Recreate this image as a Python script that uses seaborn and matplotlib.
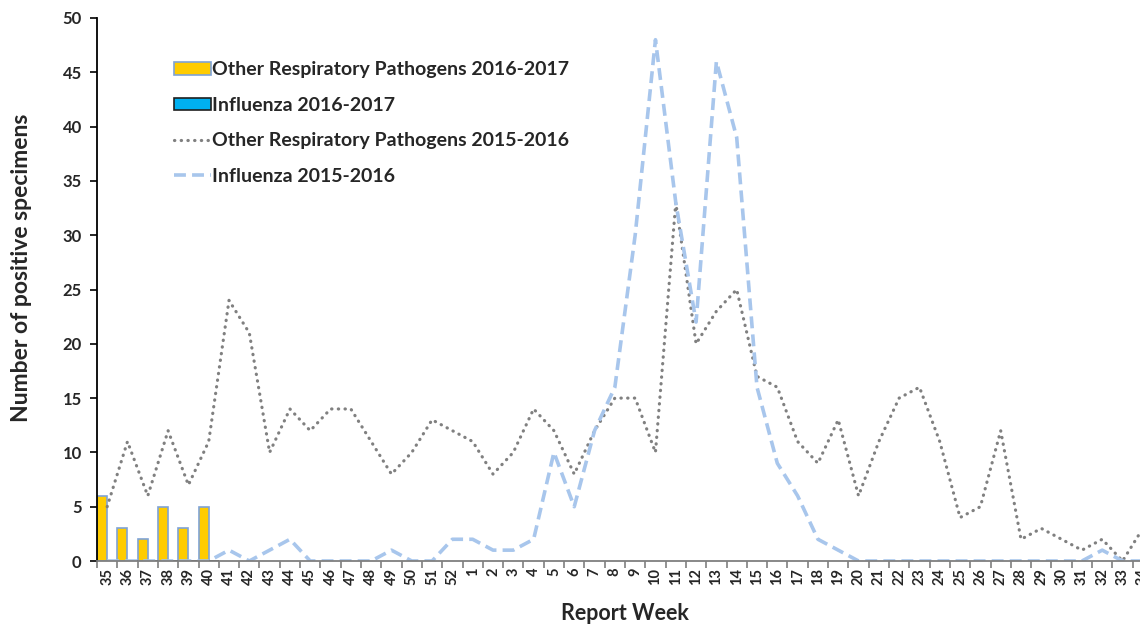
import numpy as np
import pandas as pd
import matplotlib
matplotlib.use("Agg")
import matplotlib.pyplot as plt
import seaborn as sns
from matplotlib.patches import Patch
from matplotlib.lines import Line2D

# ---------------- data ----------------
weeks = [str(w) for w in list(range(35, 53)) + list(range(1, 35))]
bar_weeks = ["35", "36", "37", "38", "39", "40"]
other_1617 = [6, 3, 2, 5, 3, 5]
flu_1617 = [0, 0, 0, 0, 0, 0]
other_1516 = [5, 11, 6, 12, 7, 11, 24, 21, 10, 14, 12, 14, 14, 11, 8, 10, 13, 12,
              11, 8, 10, 14, 12, 8, 12, 15, 15, 10, 33, 20, 23, 25, 17, 16, 11, 9,
              13, 6, 11, 15, 16, 11, 4, 5, 12, 2, 3, 2, 1, 2, 0, 3]
flu_1516 = [0, 0, 0, 0, 0, 0, 1, 0, 1, 2, 0, 0, 0, 0, 1, 0, 0, 2,
            2, 1, 1, 2, 10, 5, 12, 16, 30, 48, 33, 22, 46, 39, 16, 9, 6, 2,
            1, 0, 0, 0, 0, 0, 0, 0, 0, 0, 0, 0, 0, 1, 0, 0]
series_labels = ["Other Respiratory Pathogens 2016-2017", "Influenza 2016-2017",
                 "Other Respiratory Pathogens 2015-2016", "Influenza 2015-2016"]

# ---------------- style ----------------
sns.set_theme(style="white")
plt.rcParams['font.family'] = ['Lato', 'DejaVu Sans']
plt.rcParams['font.weight'] = 'bold'

YELLOW, YEDGE = "#FFCC00", "#7FA3D6"
BLUE, BEDGE = "#00B0F0", "#1F1F1F"
GRAY = "#808080"
LBLUE = "#A8C6EC"
DOT = (0, (0.1, 2.0))
DASH = (0, (3.3, 1.7))

fig = plt.figure(figsize=(11.4, 6.25), dpi=100)
ax = fig.add_axes([0.0851, 0.1024, 0.9263, 0.8688])

bars = pd.DataFrame({
    "week": bar_weeks * 2,
    "value": other_1617 + flu_1617,
    "series": [series_labels[0]] * len(bar_weeks) + [series_labels[1]] * len(bar_weeks),
})
sns.barplot(data=bars, x="week", y="value", hue="series", order=weeks,
            hue_order=series_labels[:2], palette=[YELLOW, BLUE], width=1.0,
            dodge=True, saturation=1, legend=False, ax=ax)
for cont, ec in zip(ax.containers, [YEDGE, BEDGE]):
    for p in cont:
        p.set_edgecolor(ec)
        p.set_linewidth(1.2)

xpos = np.arange(len(weeks))
sns.lineplot(x=xpos, y=other_1516, ax=ax, color=GRAY, lw=2.3,
             linestyle=DOT, dash_capstyle="round")
sns.lineplot(x=xpos, y=flu_1516, ax=ax, color=LBLUE, lw=2.6, linestyle=DASH)

ax.set_xlim(-0.5, len(weeks) - 0.5)
ax.set_ylim(0, 50)
ax.set_yticks(range(0, 51, 5))
ax.set_yticklabels([str(v) for v in range(0, 51, 5)], fontsize=12, fontweight='bold')
ax.set_xticks(xpos)
ax.set_xticklabels(weeks, rotation=90, fontsize=10.5, fontweight='bold')
ax.set_xticks(np.arange(-0.5, len(weeks), 1), minor=True)
ax.tick_params(axis='x', which='major', length=0, pad=5)
ax.tick_params(axis='x', which='minor', bottom=True, length=5, width=1.2, color="#7F7F7F", direction='out')
ax.tick_params(axis='y', which='major', left=True, length=5, width=1.2, color="black", direction='out', pad=6)

for s in ["top", "right"]:
    ax.spines[s].set_visible(False)
ax.spines["left"].set_color("black")
ax.spines["left"].set_linewidth(1.3)
ax.spines["bottom"].set_color("#7F7F7F")
ax.spines["bottom"].set_linewidth(1.3)

ax.set_xlabel("Report Week", fontsize=15.5, fontweight='bold')
ax.set_ylabel("Number of positive specimens", fontsize=16.5, fontweight='bold')
ax.xaxis.set_label_coords(0.5, -0.077)
ax.yaxis.set_label_coords(-0.062, 0.54)

handles = [
    Patch(facecolor=YELLOW, edgecolor=YEDGE, lw=1.2),
    Patch(facecolor=BLUE, edgecolor=BEDGE, lw=1.2),
    Line2D([], [], color=GRAY, lw=2.3, linestyle=DOT, dash_capstyle="round"),
    Line2D([], [], color=LBLUE, lw=2.6, linestyle=DASH),
]
ax.legend(handles, series_labels, loc='upper left', bbox_to_anchor=(0.06, 0.945),
          frameon=False, handlelength=1.9, handleheight=0.62,
          handletextpad=0.08, labelspacing=0.95, borderpad=0.2,
          prop={'weight': 'bold', 'size': 14})

fig.savefig("out.png", dpi=100)
